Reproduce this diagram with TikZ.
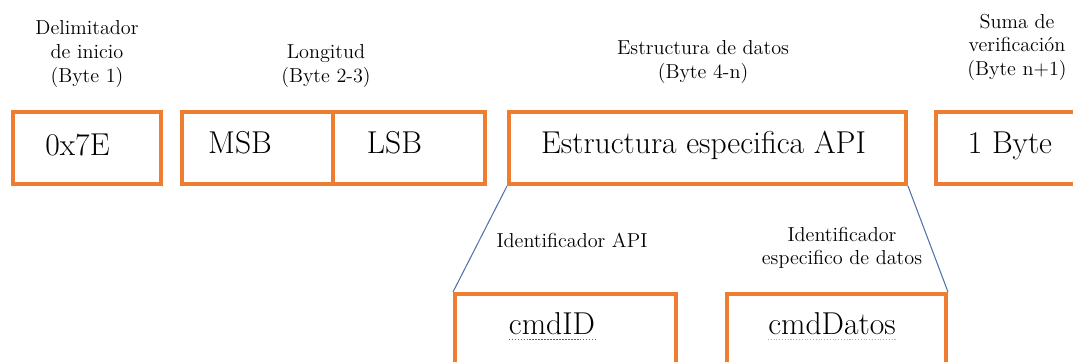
\documentclass[tikz,border=0pt]{standalone}
\usetikzlibrary{positioning}

\definecolor{marco}{RGB}{237,125,49}
\definecolor{enlace}{RGB}{84,114,170}
\definecolor{subrayado}{RGB}{214,40,80}

\tikzset{
  campo/.style={draw=marco, line width=2.3pt, minimum height=1.44cm, inner sep=0pt},
  valor/.style={font=\fontsize{18}{21}\selectfont, inner sep=0pt, text height=0.66em, text depth=0pt},
  titulo/.style={font=\fontsize{11.5}{13.4}\selectfont, align=center, inner sep=0pt},
  enlace/.style={draw=enlace, line width=0.6pt}
}

\begin{document}
\begin{tikzpicture}[x=0.02cm, y=-0.02cm]
	      \clip (0,0) rectangle (1073,362);
	      \fill[white] (0,0) rectangle (1073,362);

	      % cabeceras
	      \node[titulo] (tdelim) at (87, 54) {Delimitador\\de inicio\\(Byte 1)};
	      \node[titulo] (tlong) at (326, 66) {Longitud\\(Byte 2-3)};
	      \node[titulo] (testr) at (703, 62) {Estructura de datos\\(Byte 4-n)};
	      \node[titulo] (tsuma) at (1017, 47) {Suma de\\verificación\\(Byte n+1)};

	      % trama
	      \node[campo, minimum width=2.96cm] (delim) at (87, 148) {};
	      \node[campo, minimum width=3.02cm] (msb) at (257.5, 148) {};
	      \node[campo, minimum width=3.04cm] (lsb) at (409, 148) {};
	      \node[campo, minimum width=7.94cm] (api) at (707.5, 148) {};
	      \node[campo, minimum width=2.96cm] (suma) at (1010, 148) {};
	      \node[valor, xshift=-0.19cm, yshift=-0.03cm] (vdelim) at (delim) {0x7E};
	      \node[valor, xshift=-0.35cm] (vmsb) at (msb) {MSB};
	      \node[valor, xshift=-0.29cm] (vlsb) at (lsb) {LSB};
	      \node[valor, xshift=-0.08cm] (vapi) at (api) {Estructura especifica API};
	      \node[valor] (vsuma) at (suma) {1 Byte};

	      % detalle de la estructura
	      \node[titulo] (tid) at (572, 240) {Identificador API};
	      \node[titulo] (tdatos) at (842, 248) {Identificador\\especifico de datos};
	      \node[campo, minimum width=4.42cm] (cmdid) at (565.5, 330) {};
	      \node[campo, minimum width=4.38cm] (cmddatos) at (836.5, 330) {};
	      \node[valor, xshift=-0.27cm, yshift=0.02cm] (vid) at (cmdid) {cmdID};
	      \node[valor, xshift=-0.09cm, yshift=0.02cm] (vdatos) at (cmddatos) {cmdDatos};
	      \draw[subrayado, densely dotted, line width=0.7pt] ([yshift=-0.09cm]vid.base west) -- ([yshift=-0.09cm]vid.base east);
	      \draw[gray!60, densely dotted, line width=0.6pt] ([yshift=-0.09cm]vdatos.base west) -- ([yshift=-0.09cm]vdatos.base east);

	      \draw[enlace] (api.south west) -- (cmdid.north west);
	      \draw[enlace] (api.south east) -- (cmddatos.north east);
\end{tikzpicture}
\end{document}
